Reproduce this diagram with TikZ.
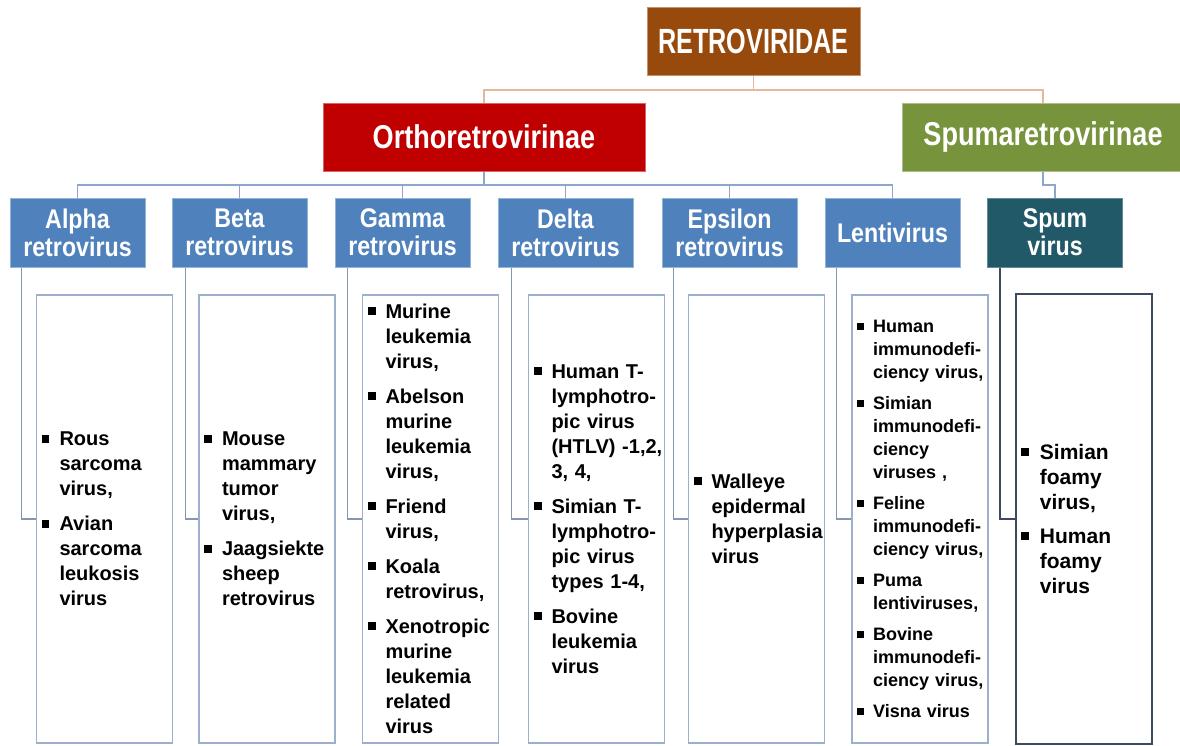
\documentclass[tikz,border=0pt]{standalone}
\usepackage{fontspec}
\setmainfont{Liberation Sans}
\usepackage{graphicx}
\definecolor{brownc}{HTML}{984A0C}
\definecolor{redc}{HTML}{C00000}
\definecolor{greenc}{HTML}{77933C}
\definecolor{bluec}{HTML}{4F81BD}
\definecolor{tealc}{HTML}{215968}
\definecolor{topline}{HTML}{E6B99C}
\definecolor{midline}{HTML}{8EA6CC}
\definecolor{elbline}{HTML}{8496B0}
\definecolor{cborder}{HTML}{9BB0CC}
\definecolor{darkborder}{HTML}{3B4A5C}
\newcommand\bul[1]{\mbox{\makebox[0.9em][l]{\rule[0.16em]{0.4em}{0.4em}}#1}}
\newcommand\ind[1]{\mbox{\hspace*{0.9em}#1}}
\newcommand\gn[1]{\scalebox{0.86}[1]{#1}}
\tikzset{
  hbox/.style={inner sep=0pt, text=white, align=center, line width=1pt},
  topbox/.style={hbox, fill=brownc, draw=brownc!60!white, minimum width=213pt, minimum height=68pt,
    font=\fontsize{35}{35}\selectfont\bfseries},
  subbox/.style={hbox, minimum height=68pt, font=\fontsize{33}{33}\selectfont\bfseries},
  genus/.style={hbox, fill=bluec, draw=bluec!60!white, minimum width=135pt, minimum height=69pt,
    font=\fontsize{27}{28}\selectfont\bfseries},
  cbox/.style={draw=cborder, line width=1.3pt, minimum height=448pt, text width=126pt,
    inner xsep=5pt, inner ysep=0pt, align=left,
    font=\fontsize{20}{25}\selectfont\bfseries},
  tline/.style={draw=topline, line width=1.3pt},
  mline/.style={draw=midline, line width=1.3pt},
  eline/.style={draw=elbline, line width=1.3pt},
}
\begin{document}
\begin{tikzpicture}[x=1pt,y=-1pt]
\useasboundingbox[fill=white] (0,0) rectangle (1180,745);

% top levels
\node[topbox] (retro) at (753.5,41.5) {\scalebox{0.72}[1]{RETROVIRIDAE}};
\node[subbox, fill=redc, draw=redc!60!white, minimum width=322pt] (ortho) at (484,137)
  {\scalebox{0.82}[1]{Orthoretrovirinae}};
\node[subbox, fill=greenc, draw=greenc!60!white, minimum width=282pt] (spuma) at (1043,137)
  {\scalebox{0.82}[1]{Spumaretrovirinae}};

% genera
\node[genus] (alpha) at (77.5,232.5) {\gn{Alpha}\\\gn{retrovirus}};
\node[genus] (beta) at (239.5,232.5) {\gn{Beta}\\\gn{retrovirus}};
\node[genus] (gamma) at (402.5,232.5) {\gn{Gamma}\\\gn{retrovirus}};
\node[genus] (delta) at (565.5,232.5) {\gn{Delta}\\\gn{retrovirus}};
\node[genus] (epsilon) at (729.5,232.5) {\gn{Epsilon}\\\gn{retrovirus}};
\node[genus] (lenti) at (892.5,232.5) {\gn{Lentivirus}};
\node[genus, fill=tealc, draw=tealc!70!white] (spum) at (1055,232.5) {\gn{Spum}\\\gn{virus}};

% connectors top
\coordinate (rj) at (753.5,90);
\draw[tline] (retro.south) -- (rj) -| (ortho.north);
\draw[tline] (rj) -| (spuma.north);
\coordinate (oj) at (484,185);
\draw[mline] (ortho.south) -- (oj);
\foreach \g in {alpha,beta,gamma,delta,epsilon,lenti}{
  \draw[mline] (oj) -| (\g.north);
}
\coordinate (sj) at (1043,185);
\draw[mline] (spuma.south) -- (sj) -| (spum.north);

% content boxes
\node[cbox] (ca) at (104.5,519) {\bul{Rous}\\ \ind{sarcoma}\\ \ind{virus,}\\[10pt]
  \bul{Avian}\\ \ind{sarcoma}\\ \ind{leukosis}\\ \ind{virus}};
\node[cbox] (cb) at (267,519) {\bul{Mouse}\\ \ind{mammary}\\ \ind{tumor}\\ \ind{virus,}\\[10pt]
  \bul{Jaagsiekte}\\ \ind{sheep}\\ \ind{retrovirus}};
\node[cbox] (cg) at (430.5,519) {\bul{Murine}\\ \ind{leukemia}\\ \ind{virus,}\\[10pt]
  \bul{Abelson}\\ \ind{murine}\\ \ind{leukemia}\\ \ind{virus,}\\[10pt]
  \bul{Friend}\\ \ind{virus,}\\[10pt]
  \bul{Koala}\\ \ind{retrovirus,}\\[10pt]
  \bul{Xenotropic}\\ \ind{murine}\\ \ind{leukemia}\\ \ind{related}\\ \ind{virus}};
\node[cbox] (cd) at (596.5,519) {\bul{Human T-}\\ \ind{lymphotro-}\\ \ind{pic virus}\\ \ind{(HTLV) -1,2,}\\ \ind{3, 4,}\\[10pt]
  \bul{Simian T-}\\ \ind{lymphotro-}\\ \ind{pic virus}\\ \ind{types 1-4,}\\[10pt]
  \bul{Bovine}\\ \ind{leukemia}\\ \ind{virus}};
\node[cbox] (ce) at (756.5,519) {\bul{Walleye}\\ \ind{epidermal}\\ \ind{hyperplasia}\\ \ind{virus}};
\node[cbox, font=\fontsize{18}{23}\selectfont\bfseries] (cl) at (920,519)
  {\bul{Human}\\ \ind{immunodefi-}\\ \ind{ciency virus,}\\[8pt]
  \bul{Simian}\\ \ind{immunodefi-}\\ \ind{ciency}\\ \ind{viruses ,}\\[8pt]
  \bul{Feline}\\ \ind{immunodefi-}\\ \ind{ciency virus,}\\[8pt]
  \bul{Puma}\\ \ind{lentiviruses,}\\[8pt]
  \bul{Bovine}\\ \ind{immunodefi-}\\ \ind{ciency virus,}\\[8pt]
  \bul{Visna virus}};
\node[cbox, draw=darkborder, minimum height=450pt, font=\fontsize{21}{25}\selectfont\bfseries] (cs) at (1084,519)
  {\bul{Simian}\\ \ind{foamy}\\ \ind{virus,}\\[9pt]
  \bul{Human}\\ \ind{foamy}\\ \ind{virus}};

% elbow connectors
\draw[eline] ([xshift=12pt]alpha.south west) |- (ca.west);
\draw[eline] ([xshift=14pt]beta.south west) |- (cb.west);
\draw[eline] ([xshift=13pt]gamma.south west) |- (cg.west);
\draw[eline] ([xshift=14pt]delta.south west) |- (cd.west);
\draw[eline] ([xshift=12pt]epsilon.south west) |- (ce.west);
\draw[eline] ([xshift=12pt]lenti.south west) |- (cl.west);
\draw[draw=darkborder, line width=1.3pt] ([xshift=13pt]spum.south west) |- (cs.west);
\end{tikzpicture}
\end{document}
